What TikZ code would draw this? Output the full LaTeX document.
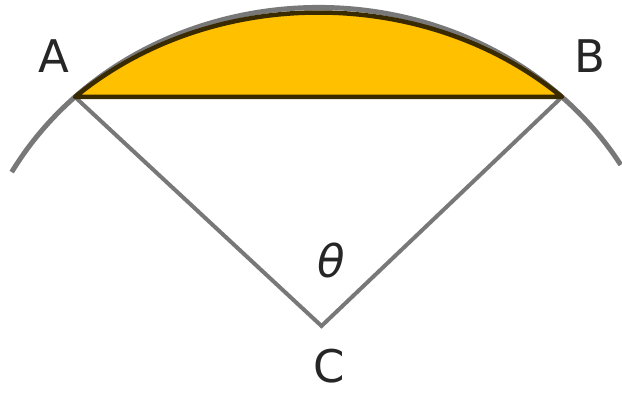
\documentclass[tikz,border=0pt]{standalone}
\usepackage{fontspec}
\setmainfont{DejaVu Sans}
\definecolor{segfill}{HTML}{FFC000}
\definecolor{segline}{HTML}{3A2A00}
\definecolor{radgray}{HTML}{787878}
\begin{document}
\begin{tikzpicture}[x=1pt,y=1pt,
  lbl/.style={font=\fontsize{45}{45}\selectfont, text=black!85, inner sep=0pt},
  radline/.style={draw=radgray, line width=4pt, line join=miter},
  circarc/.style={draw=radgray, line width=5pt},
  segment/.style={fill=segfill, draw=segline, line width=4.5pt, line join=round}]
\useasboundingbox (0,0) rectangle (622,394);
\coordinate (E) at (318.5,67);
\coordinate (C) at (321.5,68);
\coordinate (A) at (75,297);
\coordinate (B) at (562,297);
% circle arc (outer, grey)
\draw[circarc] (E) ++(151:350.8 and 319.5) arc[start angle=151, end angle=30.5, x radius=350.8, y radius=319.5];
% radii
\draw[radline] (A) -- (C) -- (B);
% segment
\filldraw[segment] (E) ++(133:357 and 314.5) coordinate (S1) arc[start angle=133, end angle=47, x radius=357, y radius=314.5] coordinate (S2) -- cycle;
% labels
\node[lbl] (labA) at (54,338) {A};
\node[lbl] (labB) at (590,338) {B};
\node[lbl] (labC) at (329,28) {C};
\node[lbl, font=\fontsize{45}{45}\selectfont\itshape] (theta) at (331,134) {θ};
\end{tikzpicture}
\end{document}
